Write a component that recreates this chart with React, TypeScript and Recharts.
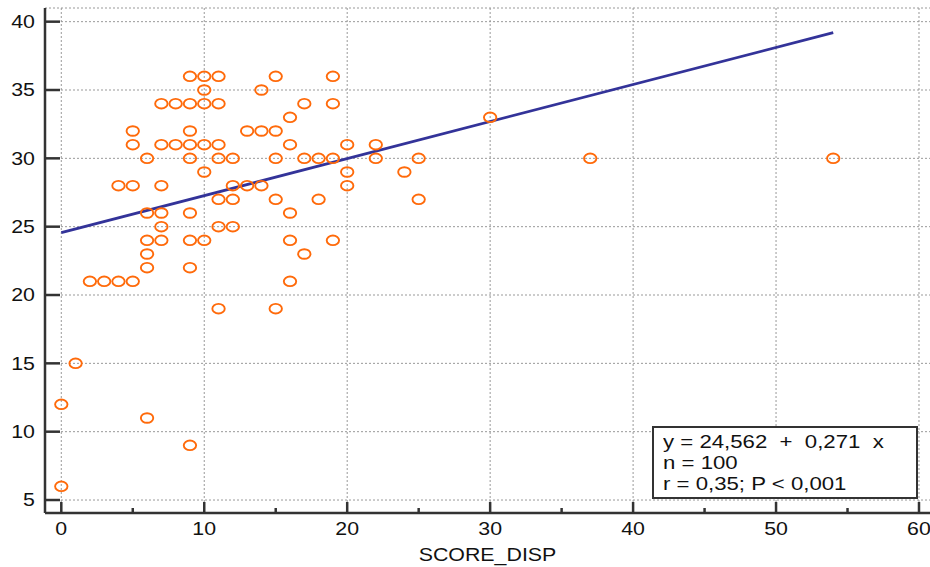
import { ScatterChart, Scatter, XAxis, YAxis, CartesianGrid, ReferenceLine } from 'recharts'

// SCORE_DISP (x) and the measured value (y) for each visible case
const scoreDisp = [
  9, 10, 11, 15, 19,
  10, 14,
  7, 8, 9, 10, 11, 17, 19,
  16, 30,
  5, 9, 13, 14, 15,
  5, 7, 8, 9, 10, 11, 16, 20, 22,
  6, 9, 11, 12, 15, 17, 18, 19, 22, 25, 37, 54,
  10, 20, 24,
  4, 5, 7, 12, 13, 14, 20,
  11, 12, 15, 18, 25,
  6, 7, 9, 16,
  7, 11, 12,
  6, 7, 9, 10, 16, 19,
  6, 17,
  6, 9,
  2, 3, 4, 5, 16,
  11, 15,
  1, 0, 6, 9, 0,
]
const values = [
  36, 36, 36, 36, 36,
  35, 35,
  34, 34, 34, 34, 34, 34, 34,
  33, 33,
  32, 32, 32, 32, 32,
  31, 31, 31, 31, 31, 31, 31, 31, 31,
  30, 30, 30, 30, 30, 30, 30, 30, 30, 30, 30, 30,
  29, 29, 29,
  28, 28, 28, 28, 28, 28, 28,
  27, 27, 27, 27, 27,
  26, 26, 26, 26,
  25, 25, 25,
  24, 24, 24, 24, 24, 24,
  23, 23,
  22, 22,
  21, 21, 21, 21, 21,
  19, 19,
  15, 12, 11, 9, 6,
]

const xTicks = [0, 5, 10, 15, 20, 25, 30, 35, 40, 45, 50, 55, 60]
const xGrid = [0, 10, 20, 30, 40, 50, 60]
const yTicks = [5, 10, 15, 20, 25, 30, 35, 40]

// regression y = 24,562 + 0,271 x
const intercept = 24.562
const slope = 0.271
const fitRange = [0, 54]

const points = scoreDisp.map((x, i) => ({ x, y: values[i] }))

const FONT = '"Liberation Sans", Arial, sans-serif'
const STRETCH = 1.22
const AXIS = '#333'

function YTick(props: any) {
  const { x, y, payload } = props
  return (
    <g>
      <line x1={x} x2={x + 15} y1={y} y2={y} stroke={AXIS} strokeWidth={2.5} />
      <text
        transform={`translate(${x - 10},${y}) scale(${STRETCH},1)`}
        dy="0.36em"
        textAnchor="end"
        fontFamily={FONT}
        fontSize={17.5}
        fill="#111"
      >
        {payload.value}
      </text>
    </g>
  )
}

function XTick(props: any) {
  const { x, y, payload } = props
  const major = payload.value % 10 === 0
  return (
    <g>
      <line x1={x} x2={x} y1={y} y2={y - (major ? 11 : 5)} stroke={AXIS} strokeWidth={2.5} />
      {major && (
        <text
          transform={`translate(${x},${y + 16}) scale(${STRETCH},1)`}
          dy="0.36em"
          textAnchor="middle"
          fontFamily={FONT}
          fontSize={17.5}
          fill="#111"
        >
          {payload.value}
        </text>
      )}
    </g>
  )
}

function Ring(props: any) {
  const { cx, cy } = props
  return <ellipse cx={cx} cy={cy} rx={6.2} ry={4.8} fill="none" stroke="#ff6a0a" strokeWidth={1.9} />
}

export default function App() {
  return (
    <div style={{ position: 'absolute', left: 0, top: 0, width: 930, height: 567, background: '#fff' }}>
      <ScatterChart width={930} height={567} margin={{ top: 8, right: 0, bottom: 0, left: 0 }}>
        <CartesianGrid stroke="#999" strokeDasharray="2 2" verticalValues={xGrid} />
        <XAxis
          type="number"
          dataKey="x"
          domain={[-1.14, 60.77]}
          allowDataOverflow
          ticks={xTicks}
          height={54}
          tickSize={0}
          tickMargin={0}
          tickLine={false}
          tick={<XTick />}
          axisLine={{ stroke: AXIS, strokeWidth: 2.5 }}
        />
        <YAxis
          type="number"
          dataKey="y"
          domain={[4.05, 41.0]}
          allowDataOverflow
          ticks={yTicks}
          width={45}
          tickSize={0}
          tickMargin={0}
          tickLine={false}
          tick={<YTick />}
          axisLine={{ stroke: AXIS, strokeWidth: 2.5 }}
        />
        <ReferenceLine
          segment={[
            { x: fitRange[0], y: intercept + slope * fitRange[0] },
            { x: fitRange[1], y: intercept + slope * fitRange[1] },
          ]}
          stroke="#333399"
          strokeWidth={2.8}
        />
        <Scatter data={points} shape={<Ring />} isAnimationActive={false} />
      </ScatterChart>
      <div
        style={{
          position: 'absolute',
          left: 45,
          width: 885,
          top: 543,
          textAlign: 'center',
          fontFamily: FONT,
          fontSize: 17.5,
          lineHeight: '24px',
          color: '#111',
          transform: `scaleX(${STRETCH})`,
        }}
      >
        SCORE_DISP
      </div>
      <div
        style={{
          position: 'absolute',
          left: 652,
          top: 426,
          width: 266,
          height: 73,
          boxSizing: 'border-box',
          border: `2.5px solid ${AXIS}`,
          background: '#fff',
          padding: '4px 0 0 9px',
          fontFamily: FONT,
          fontSize: 18.2,
          lineHeight: '21px',
          color: '#111',
          whiteSpace: 'pre',
        }}
      >
        <div style={{ transform: `scaleX(${STRETCH})`, transformOrigin: 'left center' }}>
          <div>{'y = 24,562  +  0,271  x'}</div>
          <div>{'n = 100'}</div>
          <div>{'r = 0,35; P < 0,001'}</div>
        </div>
      </div>
    </div>
  )
}
